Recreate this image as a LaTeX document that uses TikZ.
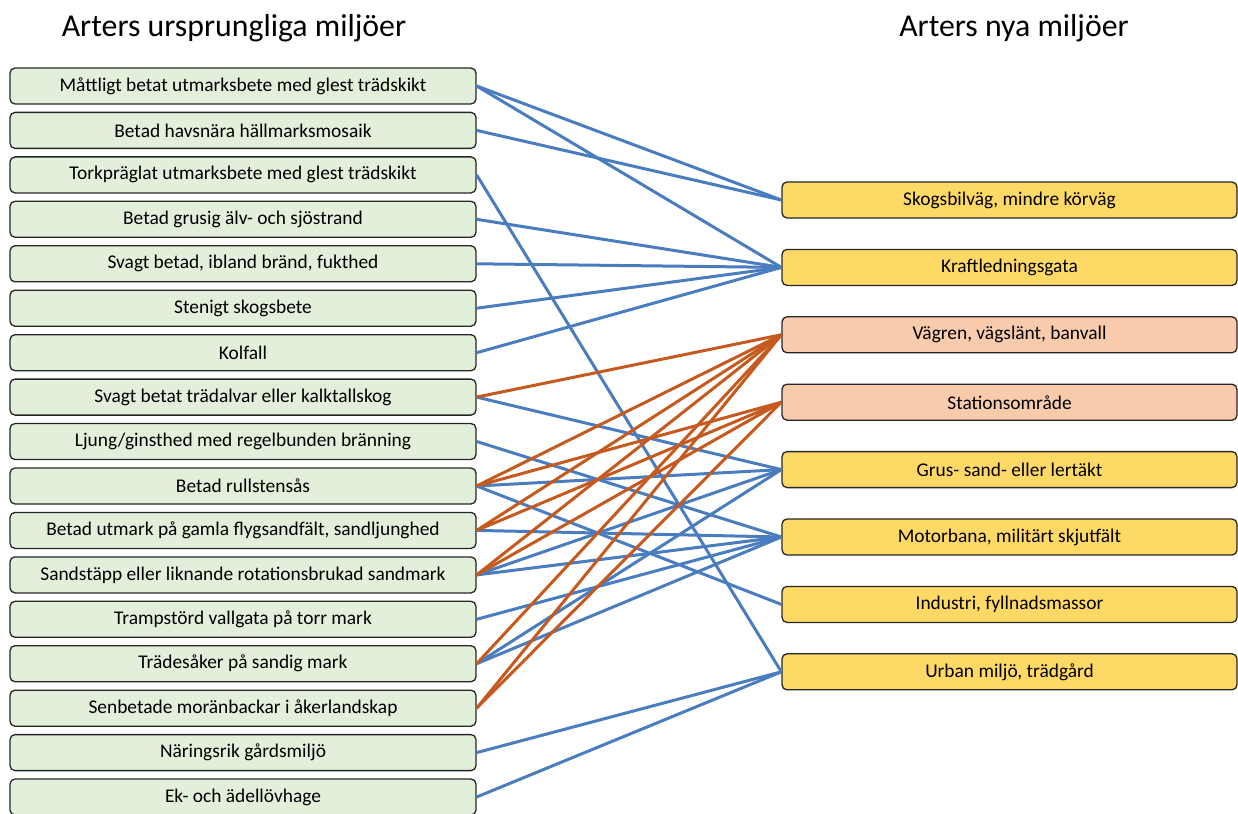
\documentclass[tikz,border=0pt]{standalone}
\usepackage{fontspec}
\setmainfont{Carlito}
\definecolor{linkblue}{HTML}{4A7DBF}
\definecolor{linkorange}{HTML}{C65A1E}
\definecolor{oldenv}{HTML}{E2EFDA}
\definecolor{newenv}{HTML}{FFD966}
\definecolor{roadenv}{HTML}{F8CBAD}

\begin{document}
\begin{tikzpicture}[
    x=1pt, y=-1pt,
    old/.style={draw=black!85, line width=1.3pt, rounded corners=5pt, fill=oldenv,
                minimum width=466pt, minimum height=36pt, inner sep=0pt,
                font=\fontsize{19.4}{22}\selectfont},
    new/.style={old, fill=newenv, minimum width=455pt},
    road/.style={new, fill=roadenv},
    head/.style={font=\fontsize{31.8}{36}\selectfont},
    blink/.style={linkblue, line width=3pt},
    olink/.style={linkorange, line width=3pt},
]
\useasboundingbox (0,0) rectangle (1238,813);

% ---- headings ----
\node[head] (hold) at (234,28) {Arters ursprungliga miljöer};
\node[head] (hnew) at (1014,28) {Arters nya miljöer};

% ---- original environments ----
\node[old] (o1)  at (243,86)    {Måttligt betat utmarksbete med glest trädskikt};
\node[old] (o2)  at (243,130.4) {Betad havsnära hällmarksmosaik};
\node[old] (o3)  at (243,174.9) {Torkpräglat utmarksbete med glest trädskikt};
\node[old] (o4)  at (243,219.3) {Betad grusig älv- och sjöstrand};
\node[old] (o5)  at (243,263.8) {Svagt betad, ibland bränd, fukthed};
\node[old] (o6)  at (243,308.2) {Stenigt skogsbete};
\node[old] (o7)  at (243,352.7) {Kolfall};
\node[old] (o8)  at (243,397.1) {Svagt betat trädalvar eller kalktallskog};
\node[old] (o9)  at (243,441.5) {Ljung/ginsthed med regelbunden bränning};
\node[old] (o10) at (243,486)   {Betad rullstensås};
\node[old] (o11) at (243,530.4) {Betad utmark på gamla flygsandfält, sandljunghed};
\node[old] (o12) at (243,574.9) {Sandstäpp eller liknande rotationsbrukad sandmark};
\node[old] (o13) at (243,619.3) {Trampstörd vallgata på torr mark};
\node[old] (o14) at (243,663.7) {Trädesåker på sandig mark};
\node[old] (o15) at (243,708.2) {Senbetade moränbackar i åkerlandskap};
\node[old] (o16) at (243,752.6) {Näringsrik gårdsmiljö};
\node[old] (o17) at (243,797)   {Ek- och ädellövhage};

% ---- new environments ----
\node[new]  (n1) at (1009.5,200)   {Skogsbilväg, mindre körväg};
\node[new]  (n2) at (1009.5,267.4) {Kraftledningsgata};
\node[road] (n3) at (1009.5,334.8) {Vägren, vägslänt, banvall};
\node[road] (n4) at (1009.5,402.2) {Stationsområde};
\node[new]  (n5) at (1009.5,469.6) {Grus- sand- eller lertäkt};
\node[new]  (n6) at (1009.5,537)   {Motorbana, militärt skjutfält};
\node[new]  (n7) at (1009.5,604.4) {Industri, fyllnadsmassor};
\node[new]  (n8) at (1009.5,671.8) {Urban miljö, trädgård};

% ---- links ----
\foreach \a/\b in {o1/n1, o1/n2, o2/n1, o3/n8, o4/n2, o5/n2, o6/n2, o7/n2,
                   o8/n5, o9/n6, o10/n5, o10/n7, o11/n6, o12/n5, o12/n6,
                   o13/n6, o14/n5, o14/n6, o16/n8, o17/n8}
    \draw[blink] (\a.east) -- (\b.west);
\foreach \a/\b in {o8/n3, o10/n3, o10/n4, o11/n3, o11/n4, o12/n3, o12/n4,
                   o14/n3, o15/n3, o15/n4}
    \draw[olink] (\a.east) -- (\b.west);
\end{tikzpicture}
\end{document}
